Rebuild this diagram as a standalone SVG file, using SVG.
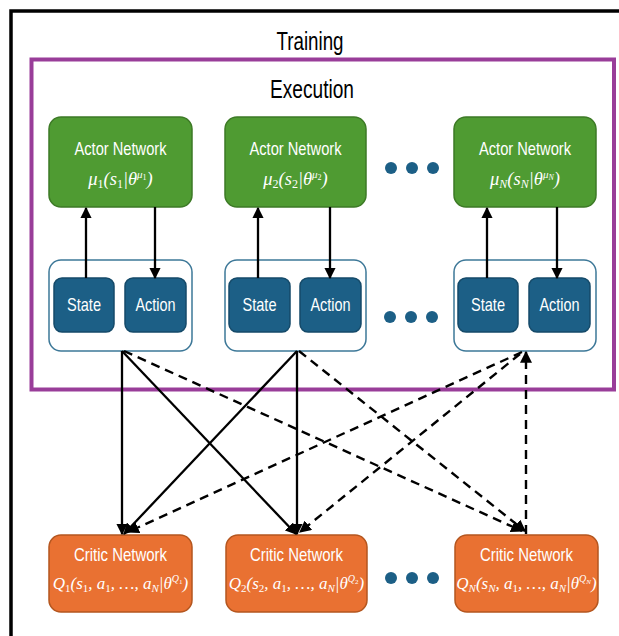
<svg xmlns="http://www.w3.org/2000/svg" width="619" height="636" viewBox="0 0 619 636">
<defs>
<style>
.lbl{font-family:"Liberation Sans Narrow","Liberation Sans",Arial,sans-serif;fill:#000;text-anchor:middle}
.wt{font-family:"Liberation Sans Narrow","Liberation Sans",Arial,sans-serif;fill:#fff;text-anchor:middle;font-size:18.5px}
.math{font-family:"Liberation Serif","DejaVu Serif",serif;font-style:italic;fill:#fff;text-anchor:middle}
.actor{fill:#4f9b32;stroke:#3d7a26;stroke-width:1.5}
.critic{fill:#e97132;stroke:#b4561f;stroke-width:1.5}
.cont{fill:#fff;stroke:#3d7898;stroke-width:1.5}
.sa{fill:#1c5f86;stroke:#154a69;stroke-width:1.5}
.dot{fill:#1c5f86}
.sol{stroke:#000;stroke-width:2.3;fill:none}
.dsh{stroke:#000;stroke-width:2.4;fill:none;stroke-dasharray:9 6}
</style>
<marker id="ah" viewBox="0 0 10 10" refX="9" refY="5" markerWidth="5" markerHeight="5" orient="auto-start-reverse" markerUnits="strokeWidth">
<path d="M0,0 L10,5 L0,10 z" fill="#000"/>
</marker>
</defs>
<rect width="619" height="636" fill="#fff"/>
<g id="training-frame">
<path d="M11,636 V11 H619" fill="none" stroke="#000" stroke-width="3.5"/>
<text class="lbl" x="310" y="50" font-size="26" textLength="67" lengthAdjust="spacingAndGlyphs">Training</text>
</g>
<g id="execution-frame">
<rect x="31.5" y="59.5" width="582.5" height="330" fill="none" stroke="#993d99" stroke-width="4"/>
<text class="lbl" x="312" y="98" font-size="26" textLength="84" lengthAdjust="spacingAndGlyphs">Execution</text>
</g>

<g id="actor1">
<rect class="actor" x="49" y="117" width="143" height="90" rx="12"/>
<text class="wt" x="120.5" y="155" textLength="92" lengthAdjust="spacingAndGlyphs">Actor Network</text>
<text class="math" x="120.5" y="185" font-size="18.5">μ<tspan font-size="12" dy="3" font-style="normal">1</tspan><tspan dy="-3">(s</tspan><tspan font-size="12" dy="3" font-style="normal">1</tspan><tspan dy="-3">|θ</tspan><tspan font-size="11" dy="-7">μ</tspan><tspan font-size="8" dy="2" font-style="normal">1</tspan><tspan dy="5">)</tspan></text>
</g>
<g id="actor2">
<rect class="actor" x="225" y="117" width="141" height="90" rx="12"/>
<text class="wt" x="295.5" y="155" textLength="92" lengthAdjust="spacingAndGlyphs">Actor Network</text>
<text class="math" x="295.5" y="185" font-size="18.5">μ<tspan font-size="12" dy="3" font-style="normal">2</tspan><tspan dy="-3">(s</tspan><tspan font-size="12" dy="3" font-style="normal">2</tspan><tspan dy="-3">|θ</tspan><tspan font-size="11" dy="-7">μ</tspan><tspan font-size="8" dy="2" font-style="normal">2</tspan><tspan dy="5">)</tspan></text>
</g>
<g id="actorN">
<rect class="actor" x="454" y="117" width="142" height="90" rx="12"/>
<text class="wt" x="525" y="155" textLength="92" lengthAdjust="spacingAndGlyphs">Actor Network</text>
<text class="math" x="525" y="185" font-size="18.5">μ<tspan font-size="12" dy="3">N</tspan><tspan dy="-3">(s</tspan><tspan font-size="12" dy="3">N</tspan><tspan dy="-3">|θ</tspan><tspan font-size="11" dy="-7">μ</tspan><tspan font-size="8" dy="2">N</tspan><tspan dy="5">)</tspan></text>
</g>

<g id="dots-top">
<circle class="dot" cx="391" cy="168" r="6"/>
<circle class="dot" cx="412" cy="168" r="6"/>
<circle class="dot" cx="433" cy="168" r="6"/>
</g>

<g id="env1">
<rect class="cont" x="49" y="260" width="143" height="91" rx="12"/>
<rect class="sa" x="54" y="278" width="60" height="54" rx="8"/>
<text class="wt" x="84" y="311" textLength="34" lengthAdjust="spacingAndGlyphs">State</text>
<rect class="sa" x="125" y="278" width="61" height="54" rx="8"/>
<text class="wt" x="155.5" y="311" textLength="40" lengthAdjust="spacingAndGlyphs">Action</text>
</g>
<g id="env2">
<rect class="cont" x="225" y="260" width="141" height="91" rx="12"/>
<rect class="sa" x="229" y="278" width="61" height="54" rx="8"/>
<text class="wt" x="259.5" y="311" textLength="34" lengthAdjust="spacingAndGlyphs">State</text>
<rect class="sa" x="300" y="278" width="61" height="54" rx="8"/>
<text class="wt" x="330.5" y="311" textLength="40" lengthAdjust="spacingAndGlyphs">Action</text>
</g>
<g id="envN">
<rect class="cont" x="454" y="260" width="142" height="91" rx="12"/>
<rect class="sa" x="458" y="278" width="60" height="54" rx="8"/>
<text class="wt" x="488" y="311" textLength="34" lengthAdjust="spacingAndGlyphs">State</text>
<rect class="sa" x="529" y="278" width="61" height="54" rx="8"/>
<text class="wt" x="559.5" y="311" textLength="40" lengthAdjust="spacingAndGlyphs">Action</text>
</g>

<g id="dots-mid">
<circle class="dot" cx="390" cy="317" r="6"/>
<circle class="dot" cx="411" cy="317" r="6"/>
<circle class="dot" cx="432" cy="317" r="6"/>
</g>

<g id="critic1">
<rect class="critic" x="49" y="535" width="143" height="77" rx="12"/>
<text class="wt" x="120.5" y="561" textLength="93" lengthAdjust="spacingAndGlyphs">Critic Network</text>
<text class="math" x="120.5" y="589" font-size="17">Q<tspan font-size="11" dy="3" font-style="normal">1</tspan><tspan dy="-3">(s</tspan><tspan font-size="11" dy="3" font-style="normal">1</tspan><tspan dy="-3">, a</tspan><tspan font-size="11" dy="3" font-style="normal">1</tspan><tspan dy="-3">, …, a</tspan><tspan font-size="11" dy="3">N</tspan><tspan dy="-3">|θ</tspan><tspan font-size="10" dy="-7">Q</tspan><tspan font-size="7" dy="2" font-style="normal">1</tspan><tspan dy="5">)</tspan></text>
</g>
<g id="critic2">
<rect class="critic" x="226" y="535" width="141" height="77" rx="12"/>
<text class="wt" x="296.5" y="561" textLength="93" lengthAdjust="spacingAndGlyphs">Critic Network</text>
<text class="math" x="296.5" y="589" font-size="17">Q<tspan font-size="11" dy="3" font-style="normal">2</tspan><tspan dy="-3">(s</tspan><tspan font-size="11" dy="3" font-style="normal">2</tspan><tspan dy="-3">, a</tspan><tspan font-size="11" dy="3" font-style="normal">1</tspan><tspan dy="-3">, …, a</tspan><tspan font-size="11" dy="3">N</tspan><tspan dy="-3">|θ</tspan><tspan font-size="10" dy="-7">Q</tspan><tspan font-size="7" dy="2" font-style="normal">2</tspan><tspan dy="5">)</tspan></text>
</g>
<g id="criticN">
<rect class="critic" x="455" y="535" width="143" height="77" rx="12"/>
<text class="wt" x="526.5" y="561" textLength="93" lengthAdjust="spacingAndGlyphs">Critic Network</text>
<text class="math" x="526.5" y="589" font-size="17">Q<tspan font-size="11" dy="3">N</tspan><tspan dy="-3">(s</tspan><tspan font-size="11" dy="3">N</tspan><tspan dy="-3">, a</tspan><tspan font-size="11" dy="3" font-style="normal">1</tspan><tspan dy="-3">, …, a</tspan><tspan font-size="11" dy="3">N</tspan><tspan dy="-3">|θ</tspan><tspan font-size="10" dy="-7">Q</tspan><tspan font-size="7" dy="2">N</tspan><tspan dy="5">)</tspan></text>
</g>

<g id="dots-bottom">
<circle class="dot" cx="391" cy="578" r="6"/>
<circle class="dot" cx="412" cy="578" r="6"/>
<circle class="dot" cx="433" cy="578" r="6"/>
</g>

<g id="connectors">
<line class="sol" x1="86" y1="278" x2="86" y2="208" marker-end="url(#ah)"/>
<line class="sol" x1="155" y1="207" x2="155" y2="278" marker-end="url(#ah)"/>
<line class="sol" x1="258" y1="278" x2="258" y2="208" marker-end="url(#ah)"/>
<line class="sol" x1="330" y1="207" x2="330" y2="278" marker-end="url(#ah)"/>
<line class="sol" x1="487" y1="278" x2="487" y2="208" marker-end="url(#ah)"/>
<line class="sol" x1="557" y1="207" x2="557" y2="278" marker-end="url(#ah)"/>

<line class="sol" x1="122" y1="351" x2="122" y2="534" marker-end="url(#ah)"/>
<line class="sol" x1="122" y1="351" x2="296" y2="534" marker-end="url(#ah)"/>
<line class="dsh" x1="124" y1="351" x2="522" y2="531" marker-end="url(#ah)"/>
<line class="sol" x1="297" y1="351" x2="297" y2="534" marker-end="url(#ah)"/>
<line class="sol" x1="297" y1="351" x2="124" y2="534" marker-end="url(#ah)"/>
<line class="dsh" x1="299" y1="351" x2="525" y2="531" marker-end="url(#ah)"/>
<line class="dsh" x1="526" y1="534" x2="526" y2="352" marker-end="url(#ah)"/>
<line class="dsh" x1="522" y1="352" x2="128" y2="532" marker-end="url(#ah)"/>
<line class="dsh" x1="520" y1="354" x2="300" y2="532" marker-end="url(#ah)"/>
</g>
</svg>
